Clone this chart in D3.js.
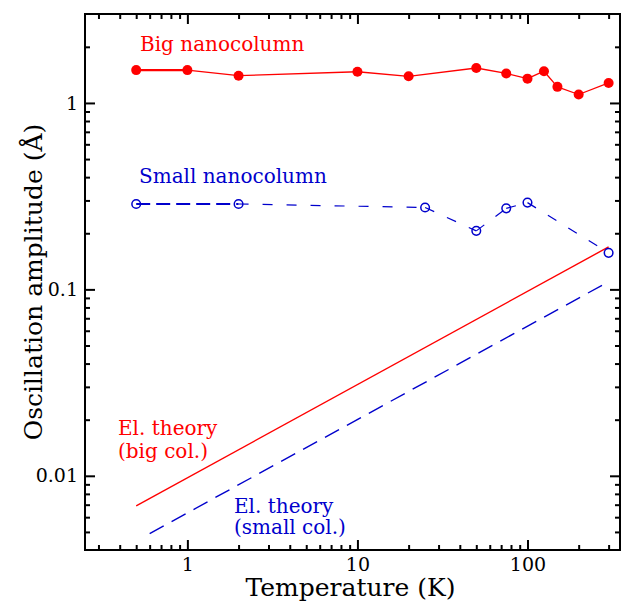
<!DOCTYPE html>
<html>
<head>
<meta charset="utf-8">
<script src="https://cdn.jsdelivr.net/npm/d3@7"></script>
<style>
  html, body { margin: 0; padding: 0; background: #fff; }
  svg { display: block; font-family: "DejaVu Serif", serif; }
</style>
</head>
<body>
<svg id="chart" width="622" height="602"></svg>
<script>
// Temperature (K) and oscillation amplitude (Å) for each nanocolumn
const bigTemps = [0.5, 1, 2, 10, 20, 50, 75, 100, 125, 150, 200, 300];
const bigAmps  = [1.50, 1.50, 1.40, 1.47, 1.39, 1.54, 1.44, 1.35, 1.48, 1.22, 1.11, 1.28];

const smallTemps = [0.5, 2, 25, 50, 75, 100, 300];
const smallAmps  = [0.287, 0.287, 0.275, 0.206, 0.272, 0.292, 0.157];

// Elasticity theory predictions (power law, straight on log-log axes)
const theoryBigTemps  = [0.5, 300];
const theoryBigAmps   = [0.0069, 0.169];
const theorySmallTemps = [0.6, 300];
const theorySmallAmps  = [0.0049, 0.110];

// Axis ticks
const xMajorTicks = [1, 10, 100];
const xTickLabels = ["1", "10", "100"];
const xMinorTicks = [0.3, 0.4, 0.5, 0.6, 0.7, 0.8, 0.9, 2, 3, 4, 5, 6, 7, 8, 9,
                     20, 30, 40, 50, 60, 70, 80, 90, 200, 300];
const yMajorTicks = [0.01, 0.1, 1];
const yTickLabels = ["0.01", "0.1", "1"];
const yMinorTicks = [0.005, 0.006, 0.007, 0.008, 0.009,
                     0.02, 0.03, 0.04, 0.05, 0.06, 0.07, 0.08, 0.09,
                     0.2, 0.3, 0.4, 0.5, 0.6, 0.7, 0.8, 0.9, 2];

const RED = "#ff0000";
const BLUE = "#0000cc";

const svg = d3.select("#chart");
const m = { left: 85, top: 14, right: 620, bottom: 550 };

const x = d3.scaleLog().domain([0.25, 350]).range([m.left, m.right]);
const y = d3.scaleLog().domain([0.004, 3]).range([m.bottom, m.top]);

// ---- axes (ticks pointing inward on all four sides) ----
function styleAxis(g) {
  g.select(".domain").remove();
  g.selectAll("line").attr("stroke", "#000").attr("stroke-width", 2);
  g.selectAll("text").attr("fill", "#000")
    .attr("font-family", "DejaVu Serif, serif").attr("font-size", 19);
}

const xi = new Map(xMajorTicks.map((d, i) => [d, xTickLabels[i]]));
const yi = new Map(yMajorTicks.map((d, i) => [d, yTickLabels[i]]));

svg.append("g").attr("transform", `translate(0,${m.bottom})`)
  .call(d3.axisBottom(x).tickValues(xMajorTicks).tickSize(-10).tickPadding(8)
    .tickFormat(d => xi.get(d)))
  .call(styleAxis);
svg.append("g").attr("transform", `translate(0,${m.bottom})`)
  .call(d3.axisBottom(x).tickValues(xMinorTicks).tickSize(-5).tickFormat(""))
  .call(styleAxis);
svg.append("g").attr("transform", `translate(0,${m.top})`)
  .call(d3.axisTop(x).tickValues(xMajorTicks).tickSize(-10).tickFormat(""))
  .call(styleAxis);
svg.append("g").attr("transform", `translate(0,${m.top})`)
  .call(d3.axisTop(x).tickValues(xMinorTicks).tickSize(-5).tickFormat(""))
  .call(styleAxis);

svg.append("g").attr("transform", `translate(${m.left},0)`)
  .call(d3.axisLeft(y).tickValues(yMajorTicks).tickSize(-10).tickPadding(7)
    .tickFormat(d => yi.get(d)))
  .call(styleAxis);
svg.append("g").attr("transform", `translate(${m.left},0)`)
  .call(d3.axisLeft(y).tickValues(yMinorTicks).tickSize(-5).tickFormat(""))
  .call(styleAxis);
svg.append("g").attr("transform", `translate(${m.right},0)`)
  .call(d3.axisRight(y).tickValues(yMajorTicks).tickSize(-10).tickFormat(""))
  .call(styleAxis);
svg.append("g").attr("transform", `translate(${m.right},0)`)
  .call(d3.axisRight(y).tickValues(yMinorTicks).tickSize(-5).tickFormat(""))
  .call(styleAxis);

// frame
svg.append("rect")
  .attr("x", m.left).attr("y", m.top)
  .attr("width", m.right - m.left).attr("height", m.bottom - m.top)
  .attr("fill", "none").attr("stroke", "#000").attr("stroke-width", 2);

// ---- axis titles ----
svg.append("text")
  .attr("x", (m.left + m.right) / 2 - 2).attr("y", 596)
  .attr("text-anchor", "middle").attr("font-size", 25).attr("fill", "#000")
  .text("Temperature (K)");
svg.append("text")
  .attr("transform", `translate(42,${(m.top + m.bottom) / 2}) rotate(-90)`)
  .attr("text-anchor", "middle").attr("font-size", 25).attr("fill", "#000")
  .text("Oscillation amplitude (Å)");

// ---- series ----
const pts = (ts, as) => ts.map((t, i) => [x(t), y(as[i])]);
const plot = svg.append("g");

// connect consecutive points with individual segments
function drawSegments(points, color, styleFor) {
  for (let i = 0; i < points.length - 1; i++) {
    const s = styleFor(i);
    plot.append("path")
      .attr("d", d3.line()([points[i], points[i + 1]]))
      .attr("fill", "none").attr("stroke", color)
      .attr("stroke-width", s.width)
      .attr("stroke-dasharray", s.dash || null);
  }
}

const bigPts = pts(bigTemps, bigAmps);
const smallPts = pts(smallTemps, smallAmps);

// theory lines
plot.append("path")
  .attr("d", d3.line()(pts(theoryBigTemps, theoryBigAmps)))
  .attr("fill", "none").attr("stroke", RED).attr("stroke-width", 1.4);
plot.append("path")
  .attr("d", d3.line()(pts(theorySmallTemps, theorySmallAmps)))
  .attr("fill", "none").attr("stroke", BLUE).attr("stroke-width", 1.4)
  .attr("stroke-dasharray", "16,9");

drawSegments(bigPts, RED, i => ({ width: i === 0 ? 2.2 : 1.3 }));
drawSegments(smallPts, BLUE, i => i === 0
  ? { width: 2.2, dash: "14,6" }
  : { width: 1.2, dash: "10,14" });

plot.selectAll("circle.big").data(bigPts).join("circle")
  .attr("class", "big")
  .attr("cx", d => d[0]).attr("cy", d => d[1]).attr("r", 5)
  .attr("fill", RED);

plot.selectAll("circle.small").data(smallPts).join("circle")
  .attr("class", "small")
  .attr("cx", d => d[0]).attr("cy", d => d[1]).attr("r", 4.3)
  .attr("fill", "none").attr("stroke", BLUE).attr("stroke-width", 1.5);

// ---- labels ----
const label = (tx, ty, color, str) => svg.append("text")
  .attr("x", tx).attr("y", ty).attr("fill", color).attr("font-size", 20)
  .text(str);

label(140, 51, RED, "Big nanocolumn");
label(139, 183, BLUE, "Small nanocolumn");
label(118, 435, RED, "El. theory");
label(118, 458, RED, "(big col.)");
label(234, 513, BLUE, "El. theory");
label(234, 534, BLUE, "(small col.)");
</script>
</body>
</html>
